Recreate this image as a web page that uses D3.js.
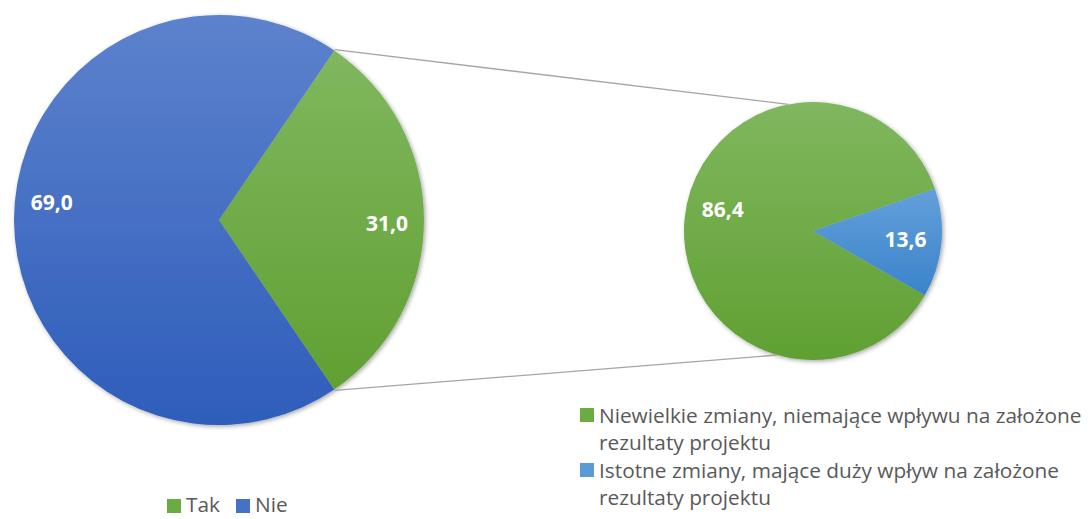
<!DOCTYPE html>
<html><head><meta charset="utf-8">
<script src="https://cdn.jsdelivr.net/npm/d3@7/dist/d3.min.js"></script>
<style>body{margin:0;background:#fff}svg{display:block}</style>
</head><body><svg id="c" width="1091" height="519"></svg>
<script>
const mainCategories = ["Tak", "Nie"];
const mainValues = [31.0, 69.0];
const subCategories = ["Niewielkie zmiany, niemające wpływu na założone|rezultaty projektu",
                       "Istotne zmiany, mające duży wpływ na założone|rezultaty projektu"];
const subValues = [86.4, 13.6];
const mainLabels = ["31,0", "69,0"];
const subLabels = ["86,4", "13,6"];

const svg = d3.select("#c");
const defs = svg.append("defs");
function grad(id, top, bottom){
  const g = defs.append("linearGradient").attr("id", id).attr("x1",0).attr("y1",0).attr("x2",0).attr("y2",1);
  g.append("stop").attr("offset","0%").attr("stop-color",top);
  g.append("stop").attr("offset","100%").attr("stop-color",bottom);
}
grad("gGreen", "#80b75f", "#60a032");
grad("gBlue", "#5d82cd", "#2e5dba");
grad("gLBlue", "#63a0da", "#3a83ca");
const f = defs.append("filter").attr("id","sh").attr("x","-10%").attr("y","-10%").attr("width","120%").attr("height","120%");
f.append("feDropShadow").attr("dx",1.5).attr("dy",1.5).attr("stdDeviation",2).attr("flood-color","#000").attr("flood-opacity",0.35);

const mainFill = ["url(#gGreen)", "url(#gBlue)"];
const subFill = ["url(#gGreen)", "url(#gLBlue)"];
const deg = Math.PI/180;

// left pie
const c1 = {x:219, y:220, r:205};
const share = mainValues[0]/d3.sum(mainValues);
const pie1 = d3.pie().sort(null).startAngle(Math.PI/2 - share*Math.PI).endAngle(Math.PI/2 - share*Math.PI + 2*Math.PI);
const arcs1 = pie1(mainValues);
const arc1 = d3.arc().innerRadius(0).outerRadius(c1.r);
const g1 = svg.append("g").attr("transform",`translate(${c1.x},${c1.y})`);
g1.append("g").attr("filter","url(#sh)").selectAll("path").data(arcs1).join("path")
  .attr("d", arc1).attr("fill",(d,i)=>mainFill[i]);

// right pie
const c2 = {x:813, y:231, r:129};
const pie2 = d3.pie().sort(null).startAngle(119.9*deg).endAngle(119.9*deg + 2*Math.PI);
const arcs2 = pie2(subValues);
const arc2 = d3.arc().innerRadius(0).outerRadius(c2.r);
const g2 = svg.append("g").attr("transform",`translate(${c2.x},${c2.y})`);
g2.append("g").attr("filter","url(#sh)").selectAll("path").data(arcs2).join("path")
  .attr("d", arc2).attr("fill",(d,i)=>subFill[i]);

// connector lines
const tak = arcs1[0];
function pt(c, a, r){ return [c.x + r*Math.sin(a), c.y - r*Math.cos(a)]; }
const p1a = pt(c1, tak.startAngle, c1.r+1), p1b = pt(c2, -11*deg, c2.r);
const p2a = pt(c1, tak.endAngle, c1.r+1), p2b = pt(c2, 196*deg, c2.r);
[[p1a,p1b],[p2a,p2b]].forEach(([a,b])=>{
  svg.append("line").attr("x1",a[0]).attr("y1",a[1]).attr("x2",b[0]).attr("y2",b[1])
    .attr("stroke","#a5a5a5").attr("stroke-width",1.3);
});

// data labels
const lblFont = "'Open Sans', sans-serif";
const nudge1 = [1*deg, 6*deg];
arcs1.forEach((d,i)=>{
  const a = (d.startAngle+d.endAngle)/2 + nudge1[i];
  const r = c1.r*0.82;
  g1.append("text").attr("x", r*Math.sin(a)).attr("y", -r*Math.cos(a)).attr("dy","0.36em")
    .attr("text-anchor","middle").attr("font-family",lblFont).attr("font-weight","bold")
    .attr("font-size",21).attr("fill","#fff").text(mainLabels[i]);
});
const nudge2 = [8*deg, 0];
arcs2.forEach((d,i)=>{
  const a = (d.startAngle+d.endAngle)/2 + nudge2[i];
  const r = c2.r*0.72;
  g2.append("text").attr("x", r*Math.sin(a)).attr("y", -r*Math.cos(a)).attr("dy","0.36em")
    .attr("text-anchor","middle").attr("font-family",lblFont).attr("font-weight","bold")
    .attr("font-size",21).attr("fill","#fff").text(subLabels[i]);
});

// legends
const legFont = "'Open Sans', sans-serif", legSize = 20.8, legColor = "#595959";
const subSwatch = ["#6aab42", "#5b9bd5"];
subCategories.forEach((c,i)=>{
  const lines = c.split("|");
  const base = 423 + i*55;
  svg.append("rect").attr("x",580).attr("y",base-15).attr("width",14).attr("height",14).attr("fill",subSwatch[i]);
  lines.forEach((t,j)=>{
    svg.append("text").attr("x",599).attr("y",base + j*27).attr("font-family",legFont)
      .attr("font-size",legSize).attr("fill",legColor).text(t);
  });
});
const mainSwatch = ["#6aab42", "#4472c4"];
const mx = [167, 236];
mainCategories.forEach((c,i)=>{
  svg.append("rect").attr("x",mx[i]).attr("y",499).attr("width",14).attr("height",14).attr("fill",mainSwatch[i]);
  svg.append("text").attr("x",mx[i]+19).attr("y",512).attr("font-family",legFont)
    .attr("font-size",legSize).attr("fill",legColor).text(c);
});
</script></body></html>
